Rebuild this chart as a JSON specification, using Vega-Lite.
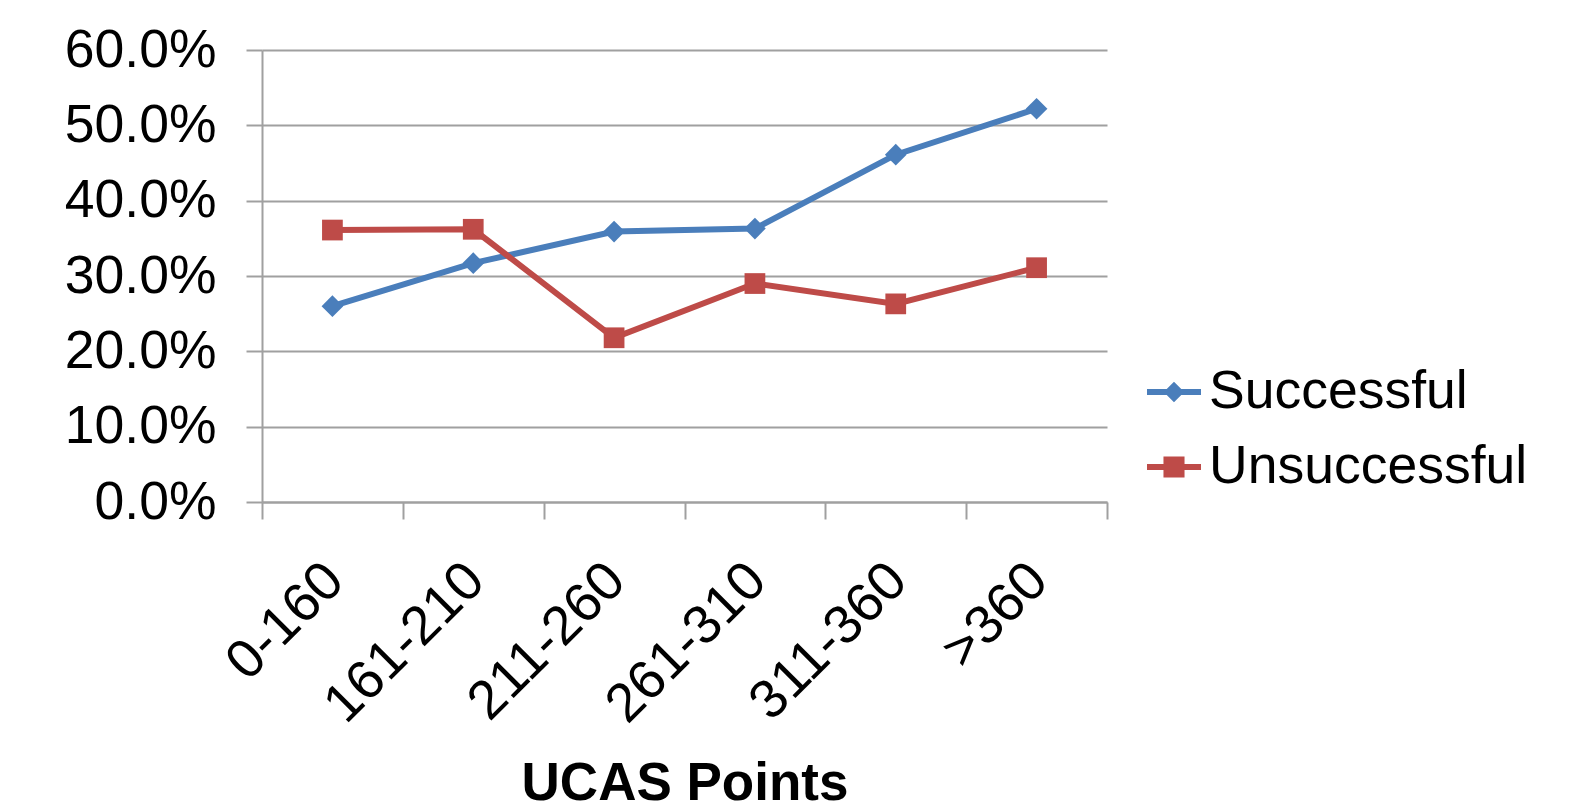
{
  "$schema": "https://vega.github.io/schema/vega-lite/v6.json",
  "width": 845,
  "height": 452,
  "autosize": {"type": "none"},
  "padding": {"left": 262, "top": 50, "right": 484, "bottom": 308},
  "background": "white",
  "config": {
    "view": {"stroke": null},
    "font": "Liberation Sans",
    "legend": {
      "padding": 0,
      "labelFontSize": 53.5,
      "labelColor": "black",
      "labelOffset": 8,
      "labelLimit": 0,
      "symbolSize": 2916,
      "symbolStrokeWidth": 0,
      "symbolOpacity": 1,
      "rowPadding": 21
    }
  },
  "data": {
    "values": [
      {"ucas": "0-160", "series": "Successful", "pct": 0.260},
      {"ucas": "161-210", "series": "Successful", "pct": 0.317},
      {"ucas": "211-260", "series": "Successful", "pct": 0.359},
      {"ucas": "261-310", "series": "Successful", "pct": 0.363},
      {"ucas": "311-360", "series": "Successful", "pct": 0.461},
      {"ucas": ">360", "series": "Successful", "pct": 0.522},
      {"ucas": "0-160", "series": "Unsuccessful", "pct": 0.361},
      {"ucas": "161-210", "series": "Unsuccessful", "pct": 0.362},
      {"ucas": "211-260", "series": "Unsuccessful", "pct": 0.218},
      {"ucas": "261-310", "series": "Unsuccessful", "pct": 0.290},
      {"ucas": "311-360", "series": "Unsuccessful", "pct": 0.263},
      {"ucas": ">360", "series": "Unsuccessful", "pct": 0.311}
    ]
  },
  "encoding": {
    "x": {
      "field": "ucas",
      "type": "ordinal",
      "sort": null,
      "scale": {"paddingInner": 0, "paddingOuter": 0},
      "axis": {
        "title": "UCAS Points",
        "titleFontSize": 53,
        "titleFontWeight": "bold",
        "titleColor": "black",
        "titleBaseline": "alphabetic",
        "titleY": 297,
        "labelAngle": -45,
        "labelFontSize": 54.5,
        "labelColor": "black",
        "labelPadding": 34,
        "labelOffset": -17,
        "labelLimit": 0,
        "tickBand": "extent",
        "tickSize": 17,
        "tickColor": "#A0A0A0",
        "tickWidth": 2,
        "domainColor": "#A0A0A0",
        "domainWidth": 2,
        "grid": false
      }
    },
    "y": {
      "field": "pct",
      "type": "quantitative",
      "scale": {"domain": [0, 0.6], "nice": false},
      "axis": {
        "title": null,
        "format": ".1%",
        "values": [0, 0.1, 0.2, 0.3, 0.4, 0.5, 0.6],
        "labelFontSize": 53.5,
        "labelColor": "black",
        "labelPadding": 30,
        "tickSize": 16,
        "tickColor": "#A0A0A0",
        "tickWidth": 2,
        "domainColor": "#A0A0A0",
        "domainWidth": 2,
        "grid": true,
        "gridColor": "#A0A0A0",
        "gridWidth": 2
      }
    }
  },
  "layer": [
    {
      "mark": {"type": "point", "filled": true, "opacity": 0, "strokeWidth": 0, "size": 10},
      "encoding": {
        "color": {
          "field": "series",
          "type": "nominal",
          "scale": {"domain": ["Successful", "Unsuccessful"], "range": ["#4A7EBB", "#BE4B48"]},
          "legend": {"title": null, "orient": "none", "legendX": 885, "legendY": 315}
        },
        "shape": {
          "field": "series",
          "type": "nominal",
          "scale": {
            "domain": ["Successful", "Unsuccessful"],
            "range": [
              "M-1,-0.11H1V0.11H-1Z M0,-0.38L0.38,0L0,0.38L-0.38,0Z",
              "M-1,-0.11H1V0.11H-1Z M-0.39,-0.39H0.39V0.39H-0.39Z"
            ]
          },
          "legend": {"title": null, "orient": "none", "legendX": 885, "legendY": 315}
        }
      }
    },
    {
      "transform": [{"filter": "datum.series === 'Successful'"}],
      "mark": {"type": "line", "strokeWidth": 6, "color": "#4A7EBB"}
    },
    {
      "transform": [{"filter": "datum.series === 'Unsuccessful'"}],
      "mark": {"type": "line", "strokeWidth": 6, "color": "#BE4B48"}
    },
    {
      "transform": [{"filter": "datum.series === 'Successful'"}],
      "mark": {"type": "point", "filled": true, "opacity": 1, "strokeWidth": 0, "size": 470, "shape": "diamond", "color": "#4A7EBB"}
    },
    {
      "transform": [{"filter": "datum.series === 'Unsuccessful'"}],
      "mark": {"type": "point", "filled": true, "opacity": 1, "strokeWidth": 0, "size": 430, "shape": "square", "color": "#BE4B48"}
    }
  ]
}
